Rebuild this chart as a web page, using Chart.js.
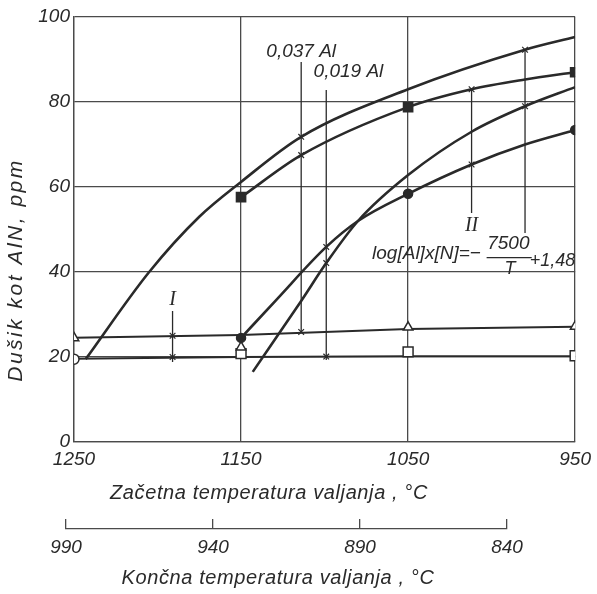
<!DOCTYPE html>
<html><head><meta charset="utf-8">
<script src="https://cdn.jsdelivr.net/npm/chart.js@4/dist/chart.umd.min.js"></script>
<style>
html,body{margin:0;padding:0;background:#fff;}
#wrap{position:relative;width:597px;height:594px;overflow:hidden;}
#main{position:absolute;left:0;top:0;}
#sec{position:absolute;left:0;top:500px;}
</style></head><body>
<div id="wrap"><canvas id="main" width="597" height="594"></canvas><canvas id="sec" width="597" height="94"></canvas></div>
<script>
// ---- tick labels ----
const xTicks = [1250, 1150, 1050, 950];          // Začetna temperatura valjanja, °C
const yTicks = [0, 20, 40, 60, 80, 100];         // Dušik kot AlN, ppm
const x2Ticks = [990, 940, 890, 840];            // Končna temperatura valjanja, °C

// ---- curves (initial rolling temperature, ppm) ----
const c1T = [1243, 1205, 1175, 1150, 1114, 1050, 980, 950];
const c1V = [19.5, 40, 53, 61.2, 71.8, 83, 92.3, 95.3];
const c2T = [1150, 1114, 1050, 1012, 980, 950];
const c2V = [57.6, 67.5, 78.8, 83, 85.3, 87];
const cAT = [1150, 1129, 1099, 1080, 1050, 1012, 980, 950];
const cAV = [24.5, 33.4, 45.9, 52, 58.4, 65.3, 70, 73.4];
const cBT = [1143, 1114, 1099, 1080, 1050, 1012, 980, 950];
const cBV = [16.5, 33.2, 42.1, 52, 62.8, 73, 79, 83.5];
// horizontal lines
const hUpT = [1250, 1150, 1050, 950];
const hUpV = [24.5, 25.2, 26.6, 27.1];
const hLoT = [1250, 1150, 1050, 950];
const hLoV = [19.6, 20.0, 20.2, 20.2];
// markers
const fSqT = [1150, 1050, 950];  const fSqV = [57.6, 78.8, 87];
const fCiT = [1150, 1050, 950];  const fCiV = [24.5, 58.4, 73.4];
const oTrT = [1250, 1150, 1050, 950]; const oTrV = [24.5, 22.3, 27, 27.2];
const oSqT = [1150, 1050, 950];  const oSqV = [20.8, 21.2, 20.3];
const oCiT = [1250];             const oCiV = [19.5];
const crT = [1114, 1114, 1099, 1099, 1012, 1012, 980, 980, 1191, 1191, 1114, 1099];
const crV = [71.8, 67.5, 45.9, 42.1, 83, 65.3, 92.3, 79, 25, 20, 25.9, 20.1];
// vertical reference lines (x, yTop, yBottom)
const v037 = [1114, 89.4, 25.8];
const v019 = [1099, 82.8, 19.3];
const vI   = [1191, 30.8, 18.8];
const vII  = [1012, 82.8, 53.9];
const vR   = [980, 92.3, 49.2];

const pts = (T, V) => T.map((t, i) => ({x: t, y: V[i]}));
const vline = v => [{x: v[0], y: v[1]}, {x: v[0], y: v[2]}];

const INK = '#2a2a2a', GRID = '#4a4a4a';
const FONT = '"Liberation Sans", Arial, sans-serif';

const curve = (T, V) => ({type: 'line', data: pts(T, V), borderColor: INK, borderWidth: 2.6,
  pointRadius: 0, cubicInterpolationMode: 'monotone', fill: false, order: 2});
const straight = (T, V) => ({type: 'line', data: pts(T, V), borderColor: INK, borderWidth: 2,
  pointRadius: 0, tension: 0, fill: false, order: 2});
const thin = v => ({type: 'line', data: vline(v), borderColor: INK, borderWidth: 1.3,
  pointRadius: 0, tension: 0, fill: false, order: 3});
const marks = (T, V, style, r, filled, bw) => ({type: 'scatter', data: pts(T, V), showLine: false,
  pointStyle: style, pointRadius: r, pointBorderWidth: bw || 1.5, pointBorderColor: INK,
  pointBackgroundColor: filled ? INK : '#ffffff', order: 0});

const textLabels = [
  {t: '0,037 Al', x: 1114, y: 91.8, f: 'italic 19px ' + FONT},
  {t: '0,019 Al', x: 1085.7, y: 87.1, f: 'italic 19px ' + FONT},
  {t: 'I', x: 1191, y: 33.4, f: 'italic 20px "Liberation Serif", serif'},
  {t: 'II', x: 1012, y: 51, f: 'italic 20px "Liberation Serif", serif'},
  {t: 'log[Al]x[N]=−', x: 1039, y: 44.4, f: 'italic 19px ' + FONT},
  {t: '7500', x: 990, y: 46.6, f: 'italic 19px ' + FONT},
  {t: 'T', x: 989, y: 40.6, f: 'italic 18px ' + FONT},
  {t: '+1,48', x: 963.5, y: 42.6, f: 'italic 18px ' + FONT}
];
const fracBar = [1003, 976, 43.4];

const annot = {
  id: 'annot',
  afterDatasetsDraw(chart) {
    const {ctx, scales: {x, y}} = chart;
    ctx.save();
    ctx.fillStyle = INK; ctx.textAlign = 'center'; ctx.textBaseline = 'middle';
    textLabels.forEach(l => { ctx.font = l.f; ctx.fillText(l.t, x.getPixelForValue(l.x), y.getPixelForValue(l.y)); });
    ctx.strokeStyle = INK; ctx.lineWidth = 1.3;
    ctx.beginPath();
    ctx.moveTo(x.getPixelForValue(fracBar[0]), y.getPixelForValue(fracBar[2]));
    ctx.lineTo(x.getPixelForValue(fracBar[1]), y.getPixelForValue(fracBar[2]));
    ctx.stroke();
    // axis titles
    ctx.font = 'italic 20px ' + FONT;
    ctx.letterSpacing = '0.6px';
    ctx.fillText('Začetna temperatura valjanja , °C', x.left + 195, 493);
    ctx.translate(16, y.top + 253);
    ctx.rotate(-Math.PI / 2);
    ctx.font = 'italic 21px ' + FONT;
    ctx.letterSpacing = '2.5px';
    ctx.fillText('Dušik kot AlN, ppm', 0, 0);
    ctx.restore();
  }
};

const secTitle = {
  id: 'secTitle',
  afterDraw(chart) {
    const {ctx, scales: {x}} = chart;
    ctx.save();
    ctx.fillStyle = INK; ctx.textAlign = 'center'; ctx.textBaseline = 'middle';
    ctx.font = 'italic 20px ' + FONT;
    ctx.letterSpacing = '0.6px';
    ctx.fillText('Končna temperatura valjanja , °C', x.left + 212, 78);
    ctx.restore();
  }
};

new Chart(document.getElementById('main'), {
  type: 'scatter',
  data: {datasets: [
    curve(c1T, c1V), curve(c2T, c2V), curve(cAT, cAV), curve(cBT, cBV),
    straight(hUpT, hUpV), straight(hLoT, hLoV),
    thin(v037), thin(v019), thin(vI), thin(vII), thin(vR),
    marks(crT, crV, 'crossRot', 4, false, 1.2),
    marks(fSqT, fSqV, 'rect', 6.5, true),
    marks(fCiT, fCiV, 'circle', 4.5, true),
    marks(oTrT, oTrV, 'triangle', 5.5, false),
    marks(oSqT, oSqV, 'rect', 7, false),
    marks(oCiT, oCiV, 'circle', 5, false)
  ]},
  options: {
    responsive: false, devicePixelRatio: 1, animation: false,
    layout: {padding: {top: 17, right: 19, left: 0, bottom: 0}},
    plugins: {legend: {display: false}, tooltip: {enabled: false}},
    scales: {
      x: {type: 'linear', reverse: true, min: 950, max: 1250,
        afterBuildTicks: s => { s.ticks = xTicks.map(v => ({value: v})); },
        afterFit: s => { s.height = 152; },
        ticks: {color: INK, padding: 6, font: {family: FONT, size: 19, style: 'italic'}, callback: v => String(v)},
        grid: {color: GRID, lineWidth: 1.3, drawTicks: false},
        border: {color: GRID, width: 1.3}},
      y: {type: 'linear', min: 0, max: 100,
        afterBuildTicks: s => { s.ticks = yTicks.map(v => ({value: v})); },
        afterFit: s => { s.width = 74; },
        ticks: {color: INK, padding: 4, font: {family: FONT, size: 19, style: 'italic'}, callback: v => String(v)},
        grid: {color: GRID, lineWidth: 1.3, drawTicks: false},
        border: {color: GRID, width: 1.3}}
    }
  },
  plugins: [annot]
});

new Chart(document.getElementById('sec'), {
  type: 'scatter',
  data: {datasets: []},
  options: {
    responsive: false, devicePixelRatio: 1, animation: false,
    layout: {padding: {top: 19, left: 66, right: 90, bottom: 0}},
    plugins: {legend: {display: false}, tooltip: {enabled: false}},
    scales: {
      x: {type: 'linear', reverse: true, min: 840, max: 990,
        afterBuildTicks: s => { s.ticks = x2Ticks.map(v => ({value: v})); },
        afterFit: s => { s.height = 65; },
        ticks: {color: INK, padding: 7, font: {family: FONT, size: 19, style: 'italic'}, callback: v => String(v)},
        grid: {color: GRID, lineWidth: 1.3, drawTicks: false},
        border: {color: GRID, width: 1.3}},
      y: {display: false, min: 0, max: 1}
    }
  },
  plugins: [secTitle]
});
</script>
</body></html>
